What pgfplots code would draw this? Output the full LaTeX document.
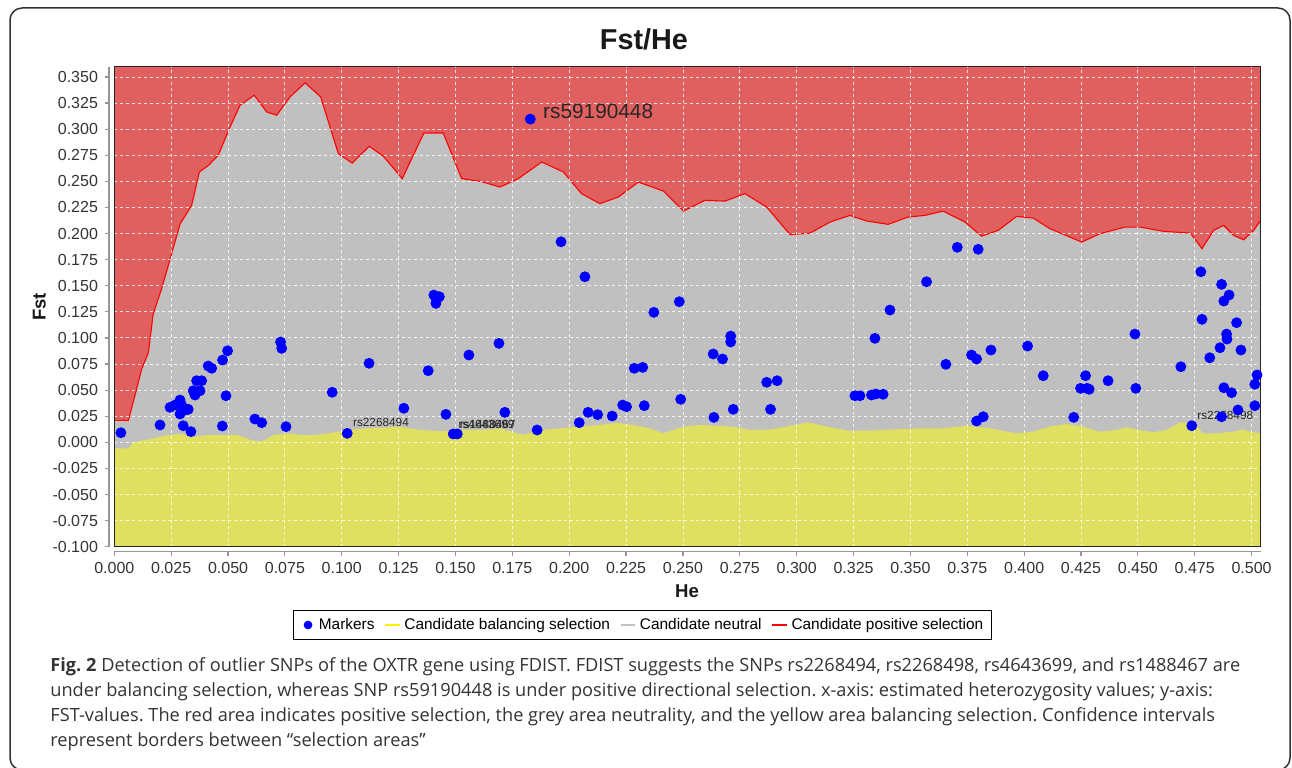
\documentclass[border=0pt]{standalone}
\usepackage{fontspec}
\setmainfont{Liberation Sans}
\newfontfamily\capfont{Open Sans}
\usepackage{pgfplots}
\pgfplotsset{compat=1.18}
\usepackage{pgfplotstable}
\frenchspacing

\definecolor{redarea}{RGB}{224,96,96}
\definecolor{grayarea}{RGB}{192,192,192}
\definecolor{yelarea}{RGB}{224,224,96}
\definecolor{axgray}{RGB}{150,150,150}
\definecolor{framecol}{RGB}{50,50,50}

\pgfplotstableread{
x y
0.0000 0.021
0.0062 0.021
0.0091 0.0450
0.0120 0.070
0.0150 0.086
0.0171 0.123
0.0208 0.147
0.0289 0.209
0.0340 0.227
0.0374 0.259
0.0414 0.2653
0.0457 0.275
0.0509 0.302
0.0553 0.323
0.0615 0.3325
0.0670 0.3165
0.0714 0.3133
0.0773 0.331
0.0839 0.3443
0.0907 0.331
0.0985 0.2765
0.1046 0.2675
0.1121 0.2836
0.1183 0.274
0.1266 0.2526
0.1361 0.2963
0.1446 0.2963
0.1527 0.2526
0.1610 0.2500
0.1696 0.2445
0.1776 0.2526
0.1879 0.2685
0.1974 0.2590
0.2054 0.2382
0.2135 0.2286
0.2216 0.2350
0.2304 0.2493
0.2414 0.2407
0.2502 0.2215
0.2597 0.2318
0.2685 0.2311
0.2773 0.2382
0.2868 0.2253
0.2971 0.1989
0.3059 0.2004
0.3147 0.2110
0.3234 0.2174
0.3307 0.2120
0.3402 0.2088
0.3490 0.2158
0.3564 0.2174
0.3644 0.2215
0.3740 0.2110
0.3813 0.1975
0.3886 0.2030
0.3967 0.2164
0.4040 0.2148
0.4113 0.2047
0.4253 0.1918
0.4334 0.1999
0.4444 0.2062
0.4510 0.2062
0.4612 0.2021
0.4731 0.2004
0.4782 0.1855
0.4833 0.2030
0.4877 0.2078
0.4921 0.1982
0.4965 0.1940
0.5009 0.2030
0.5040 0.2126
}\uppertab

\pgfplotstableread{
x y
0.0000 -0.0058
0.0062 -0.0058
0.0083 0.0000
0.0112 0.0012
0.0176 0.0038
0.0234 0.0070
0.0293 0.0080
0.0352 0.0054
0.0410 0.0070
0.0483 0.0070
0.0542 0.0070
0.0600 0.0022
0.0645 0.0006
0.0703 0.0070
0.0762 0.0086
0.0820 0.0070
0.0879 0.0070
0.0938 0.0086
0.1036 0.0118
0.1109 0.0134
0.1256 0.0150
0.1329 0.0122
0.1402 0.0110
0.1476 0.0105
0.1505 0.0118
0.1622 0.0118
0.1695 0.0134
0.1798 0.0070
0.1871 0.0118
0.1959 0.0134
0.2047 0.0150
0.2135 0.0166
0.2208 0.0188
0.2281 0.0166
0.2355 0.0134
0.2413 0.0086
0.2501 0.0150
0.2574 0.0166
0.2648 0.0157
0.2721 0.0150
0.2794 0.0118
0.2868 0.0118
0.2956 0.0150
0.3051 0.0191
0.3131 0.0150
0.3234 0.0110
0.3307 0.0112
0.3380 0.0118
0.3527 0.0134
0.3644 0.0134
0.3747 0.0159
0.3849 0.0134
0.3967 0.0086
0.4040 0.0102
0.4113 0.0150
0.4186 0.0175
0.4259 0.0150
0.4333 0.0102
0.4406 0.0118
0.4450 0.0143
0.4509 0.0118
0.4567 0.0096
0.4626 0.0118
0.4684 0.0188
0.4743 0.0188
0.4787 0.0086
0.4846 0.0086
0.4919 0.0102
0.4963 0.0124
0.4992 0.0102
0.5040 0.0086
}\lowertab

\pgfplotstableread{
x y
0.0029 0.0092
0.0201 0.0166
0.0245 0.0335
0.0267 0.0357
0.0289 0.0405
0.0296 0.0357
0.0289 0.0271
0.0311 0.0310
0.0325 0.0316
0.0303 0.0159
0.0337 0.0102
0.0347 0.0494
0.0355 0.0453
0.0377 0.0494
0.0362 0.0590
0.0384 0.0590
0.0413 0.0731
0.0428 0.0709
0.0476 0.0788
0.0498 0.0877
0.0491 0.0446
0.0475 0.0156
0.0618 0.0223
0.0648 0.0188
0.0731 0.0961
0.0736 0.0900
0.0755 0.0150
0.0958 0.0479
0.1024 0.0086
0.1120 0.0757
0.1273 0.0326
0.1380 0.0686
0.1405 0.1410
0.1417 0.1363
0.1429 0.1395
0.1414 0.1331
0.1458 0.0268
0.1490 0.0080
0.1508 0.0080
0.1559 0.0836
0.1691 0.0948
0.1717 0.0287
0.1829 0.3096
0.1859 0.0118
0.1964 0.1921
0.2044 0.0188
0.2069 0.1586
0.2083 0.0287
0.2125 0.0265
0.2189 0.0252
0.2235 0.0357
0.2252 0.0341
0.2286 0.0709
0.2323 0.0718
0.2330 0.0351
0.2372 0.1245
0.2484 0.1347
0.2490 0.0412
0.2633 0.0846
0.2636 0.0239
0.2674 0.0798
0.2710 0.1018
0.2710 0.0961
0.2721 0.0316
0.2868 0.0575
0.2914 0.0590
0.2885 0.0316
0.3256 0.0446
0.3278 0.0446
0.3329 0.0453
0.3348 0.0463
0.3380 0.0460
0.3344 0.0996
0.3410 0.1267
0.3571 0.1538
0.3656 0.0747
0.3706 0.1868
0.3769 0.0836
0.3791 0.0798
0.3798 0.1849
0.3854 0.0884
0.3791 0.0204
0.3820 0.0245
0.4015 0.0922
0.4084 0.0638
0.4218 0.0239
0.4248 0.0517
0.4270 0.0638
0.4277 0.0517
0.4286 0.0508
0.4369 0.0590
0.4487 0.1037
0.4491 0.0517
0.4689 0.0724
0.4737 0.0159
0.4777 0.1634
0.4782 0.1178
0.4816 0.0810
0.4861 0.0906
0.4868 0.1513
0.4878 0.1353
0.4901 0.1411
0.4890 0.1037
0.4892 0.0989
0.4934 0.1146
0.4953 0.0884
0.4878 0.0523
0.4912 0.0475
0.4940 0.0310
0.4868 0.0245
0.5014 0.0351
0.5014 0.0556
0.5024 0.0645
}\markertab

\begin{document}
\begin{tikzpicture}
\path[use as bounding box] (0,0) rectangle (646pt,383.5pt);
\draw[framecol, line width=0.75pt, rounded corners=6pt] (5pt,-1.5pt) rectangle (645pt,379.5pt);

\begin{axis}[
  at={(57.15pt,110.15pt)}, anchor=south west,
  scale only axis, width=573.2pt, height=240.1pt,
  xmin=0, xmax=0.504, ymin=-0.1, ymax=0.36,
  axis background/.style={fill=redarea},
  xtick={0,0.025,0.05,0.075,0.1,0.125,0.15,0.175,0.2,0.225,0.25,0.275,0.3,0.325,0.35,0.375,0.4,0.425,0.45,0.475,0.5},
  ytick={-0.1,-0.075,-0.05,-0.025,0,0.025,0.05,0.075,0.1,0.125,0.15,0.175,0.2,0.225,0.25,0.275,0.3,0.325,0.35},
  xticklabels={}, yticklabels={},
  major tick length=0pt,
  grid=major,
  major grid style={white, opacity=0.8, line width=0.45pt, dash pattern=on 1.5pt off 1.5pt},
  axis on top,
  axis line style={black!85, line width=0.7pt},
]
\addplot[fill=grayarea, draw=none] table {\uppertab} |- (axis cs:0,-0.1) -- cycle;
\addplot[fill=yelarea, draw=none] table {\lowertab} |- (axis cs:0,-0.1) -- cycle;
\addplot[red, line width=0.55pt] table {\uppertab};
\end{axis}

\begin{axis}[
  at={(57.15pt,110.15pt)}, anchor=south west,
  scale only axis, width=573.2pt, height=240.1pt,
  xmin=0, xmax=0.504, ymin=-0.1, ymax=0.36,
  axis x line*=bottom, axis y line*=left,
  axis x line shift=2.5pt, axis y line shift=2.65pt,
  axis line style={axgray, line width=0.7pt},
  tick style={axgray, line width=0.6pt},
  tick align=outside, major tick length=2pt,
  xtick={0,0.025,0.05,0.075,0.1,0.125,0.15,0.175,0.2,0.225,0.25,0.275,0.3,0.325,0.35,0.375,0.4,0.425,0.45,0.475,0.5},
  ytick={-0.1,-0.075,-0.05,-0.025,0,0.025,0.05,0.075,0.1,0.125,0.15,0.175,0.2,0.225,0.25,0.275,0.3,0.325,0.35},
  ticklabel style={font=\fontsize{8}{9.6}\selectfont, text=black!80},
  /pgf/number format/.cd, fixed, fixed zerofill, precision=3, assume math mode=true, /pgfplots/.cd,
  clip=false,
  legend columns=-1,
  legend image code/.code={\draw[#1] (0cm,0cm) -- (0.26cm,0cm);},
  legend style={at={(0.4608,-0.1631)}, anchor=center, draw=black, line width=0.5pt,
    font=\fontsize{7.7}{9}\selectfont, inner xsep=2pt, inner ysep=1.5pt,
    /tikz/every even column/.append style={column sep=3pt}},
]
\addplot[only marks, mark=*, mark size=2.5pt, color=blue, mark options={fill=blue, draw=blue},
  legend image code/.code={\path[draw=none, fill=none] (0cm,0cm) -- (0.3cm,0cm); \fill[blue] (0.18cm,0cm) circle (1.9pt);}] table {\markertab};
\addlegendentry{Markers}
\addlegendimage{yellow, line width=0.6pt}
\addlegendentry{Candidate balancing selection}
\addlegendimage{grayarea, line width=0.6pt}
\addlegendentry{Candidate neutral}
\addlegendimage{red, line width=0.6pt}
\addlegendentry{Candidate positive selection}

\node[anchor=west, inner sep=0pt, font=\fontsize{10.4}{12}\selectfont, text=black!85] at (axis cs:0.1884,0.3173) {rs59190448};
\node[anchor=west, inner sep=0pt, font=\fontsize{5.9}{7}\selectfont, text=black!85] at (axis cs:0.1048,0.0188) {rs2268494};
\node[anchor=west, inner sep=0pt, font=\fontsize{5.9}{7}\selectfont, text=black!85] at (axis cs:0.1512,0.0175) {rs4643699};
\node[anchor=west, inner sep=0pt, font=\fontsize{5.9}{7}\selectfont, text=black!85] at (axis cs:0.1517,0.0172) {rs1488467};
\node[anchor=west, inner sep=0pt, font=\fontsize{5.9}{7}\selectfont, text=black!85] at (axis cs:0.4760,0.0261) {rs2268498};
\end{axis}

\node[anchor=base, inner sep=0pt, font=\bfseries\fontsize{14.4}{17}\selectfont, text=black!90] at (322pt,358.85pt) {Fst/He};
\node[anchor=base, inner sep=0pt, font=\bfseries\fontsize{9.3}{11}\selectfont, text=black!90] at (343.5pt,84.85pt) {He};
\node[anchor=base, rotate=90, inner sep=0pt, font=\bfseries\fontsize{9.3}{11}\selectfont, text=black!90] at (22.85pt,230pt) {Fst};

\begin{scope}[every node/.style={anchor=base west, inner sep=0pt, font=\capfont\fontsize{9.1}{11}\selectfont, text=black!80}]
\node at (25pt,48pt) {\textbf{Fig. 2} Detection of outlier SNPs of the OXTR gene using FDIST. FDIST suggests the SNPs rs2268494, rs2268498, rs4643699, and rs1488467 are};
\node at (25pt,35.5pt) {under balancing selection, whereas SNP rs59190448 is under positive directional selection. x-axis: estimated heterozygosity values; y-axis:};
\node at (25pt,23pt) {FST-values. The red area indicates positive selection, the grey area neutrality, and the yellow area balancing selection. Confidence intervals};
\node at (25pt,10.5pt) {represent borders between “selection areas”};
\end{scope}
\end{tikzpicture}
\end{document}
